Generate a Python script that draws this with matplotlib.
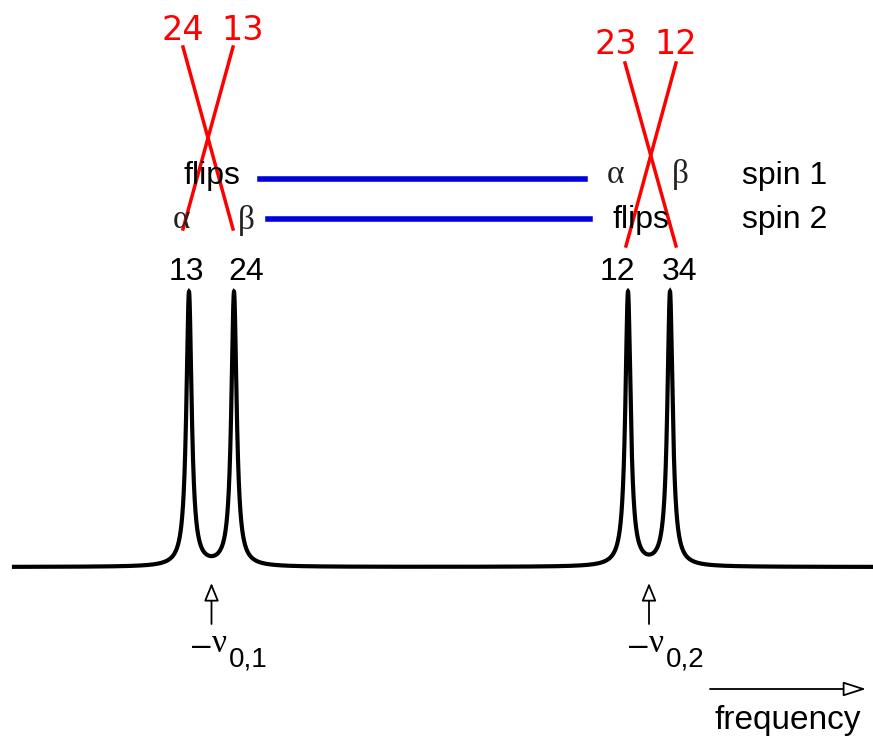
import numpy as np
import matplotlib.pyplot as plt

# peak positions (frequency axis, arbitrary units), heights and widths
peak_freqs = [189, 234, 628, 670]
peak_heights = [274, 274, 274, 274]
peak_width = 3.2
baseline = 567

# labels under/over the peaks
peak_labels = ["13", "24", "12", "34"]
label_x = [186, 246, 617, 680]
red_labels = ["24", "13", "23", "12"]
center_subs = ["0,1", "0,2"]

fig = plt.figure(figsize=(8.73, 7.39), dpi=100)
ax = fig.add_axes([0, 0, 1, 1])
ax.set_xlim(0, 873)
ax.set_ylim(739, 0)
ax.axis("off")

# spectrum: sum of lorentzians
x = np.linspace(14, 873, 40000)
y = np.full_like(x, baseline, dtype=float)
for x0, h in zip(peak_freqs, peak_heights):
    y -= h * peak_width**2 / ((x - x0) ** 2 + peak_width**2)
ax.plot(x, y, color="black", lw=3.0, solid_joinstyle="miter")

sans = "Liberation Sans"
serif = "Liberation Serif"

# black labels over peaks
for lx, lab in zip(label_x, peak_labels):
    ax.text(lx, 272, lab, fontsize=23, family=sans, ha="center", va="center")

# spin rows
ax.text(212, 176, "flips", fontsize=23, family=sans, ha="center", va="center")
ax.text(182, 220, "α", fontsize=24, family=serif, ha="center", va="center", color="#222222")
ax.text(246, 220, "β", fontsize=24, family=serif, ha="center", va="center", color="#222222")
ax.text(615, 175, "α", fontsize=24, family=serif, ha="center", va="center", color="#222222")
ax.text(680, 175, "β", fontsize=24, family=serif, ha="center", va="center", color="#222222")
ax.text(641, 220, "flips", fontsize=23, family=sans, ha="center", va="center")
ax.text(785, 176, "spin 1", fontsize=23, family=sans, ha="center", va="center")
ax.text(785, 220, "spin 2", fontsize=23, family=sans, ha="center", va="center")

# blue connector lines
ax.plot([260, 585], [179, 179], color="#0000dd", lw=4)
ax.plot([268, 590], [219, 219], color="#0000dd", lw=4)

# red crossing lines and labels
ax.plot([183, 233], [47, 229], color="red", lw=2.5)
ax.plot([233, 183], [47, 229], color="red", lw=2.5)
ax.plot([625, 676], [63, 246], color="red", lw=2.5)
ax.plot([676, 626], [63, 246], color="red", lw=2.5)
for rx, ry, lab in zip([183, 243, 616, 676], [30, 30, 45, 45], red_labels):
    ax.text(rx, ry, lab, fontsize=24, family="DejaVu Sans", color="red", ha="center", va="center")

# center frequency arrows
centers = [(peak_freqs[0] + peak_freqs[1]) / 2, (peak_freqs[2] + peak_freqs[3]) / 2]
for cx, sub in zip(centers, center_subs):
    ax.annotate("", xy=(cx, 583), xytext=(cx, 624),
                arrowprops=dict(arrowstyle="-|>,head_length=1.1,head_width=0.45",
                                fc="white", ec="black", lw=1.3, shrinkA=0, shrinkB=0))
    ax.text(cx - 20, 646, "–", fontsize=24, family=sans, ha="left", va="center")
    ax.text(cx + 0, 644, "ν", fontsize=24, family=serif, ha="left", va="center")
    ax.text(cx + 17, 660, sub, fontsize=20, family=sans, ha="left", va="center")

# frequency axis arrow
ax.annotate("", xy=(866, 689), xytext=(710, 689),
            arrowprops=dict(arrowstyle="-|>,head_length=1.4,head_width=0.45",
                            fc="white", ec="black", lw=1.3, shrinkA=0, shrinkB=0))
ax.text(788, 720, "frequency", fontsize=24, family=sans, ha="center", va="center")

fig.savefig("out.png", dpi=100)
